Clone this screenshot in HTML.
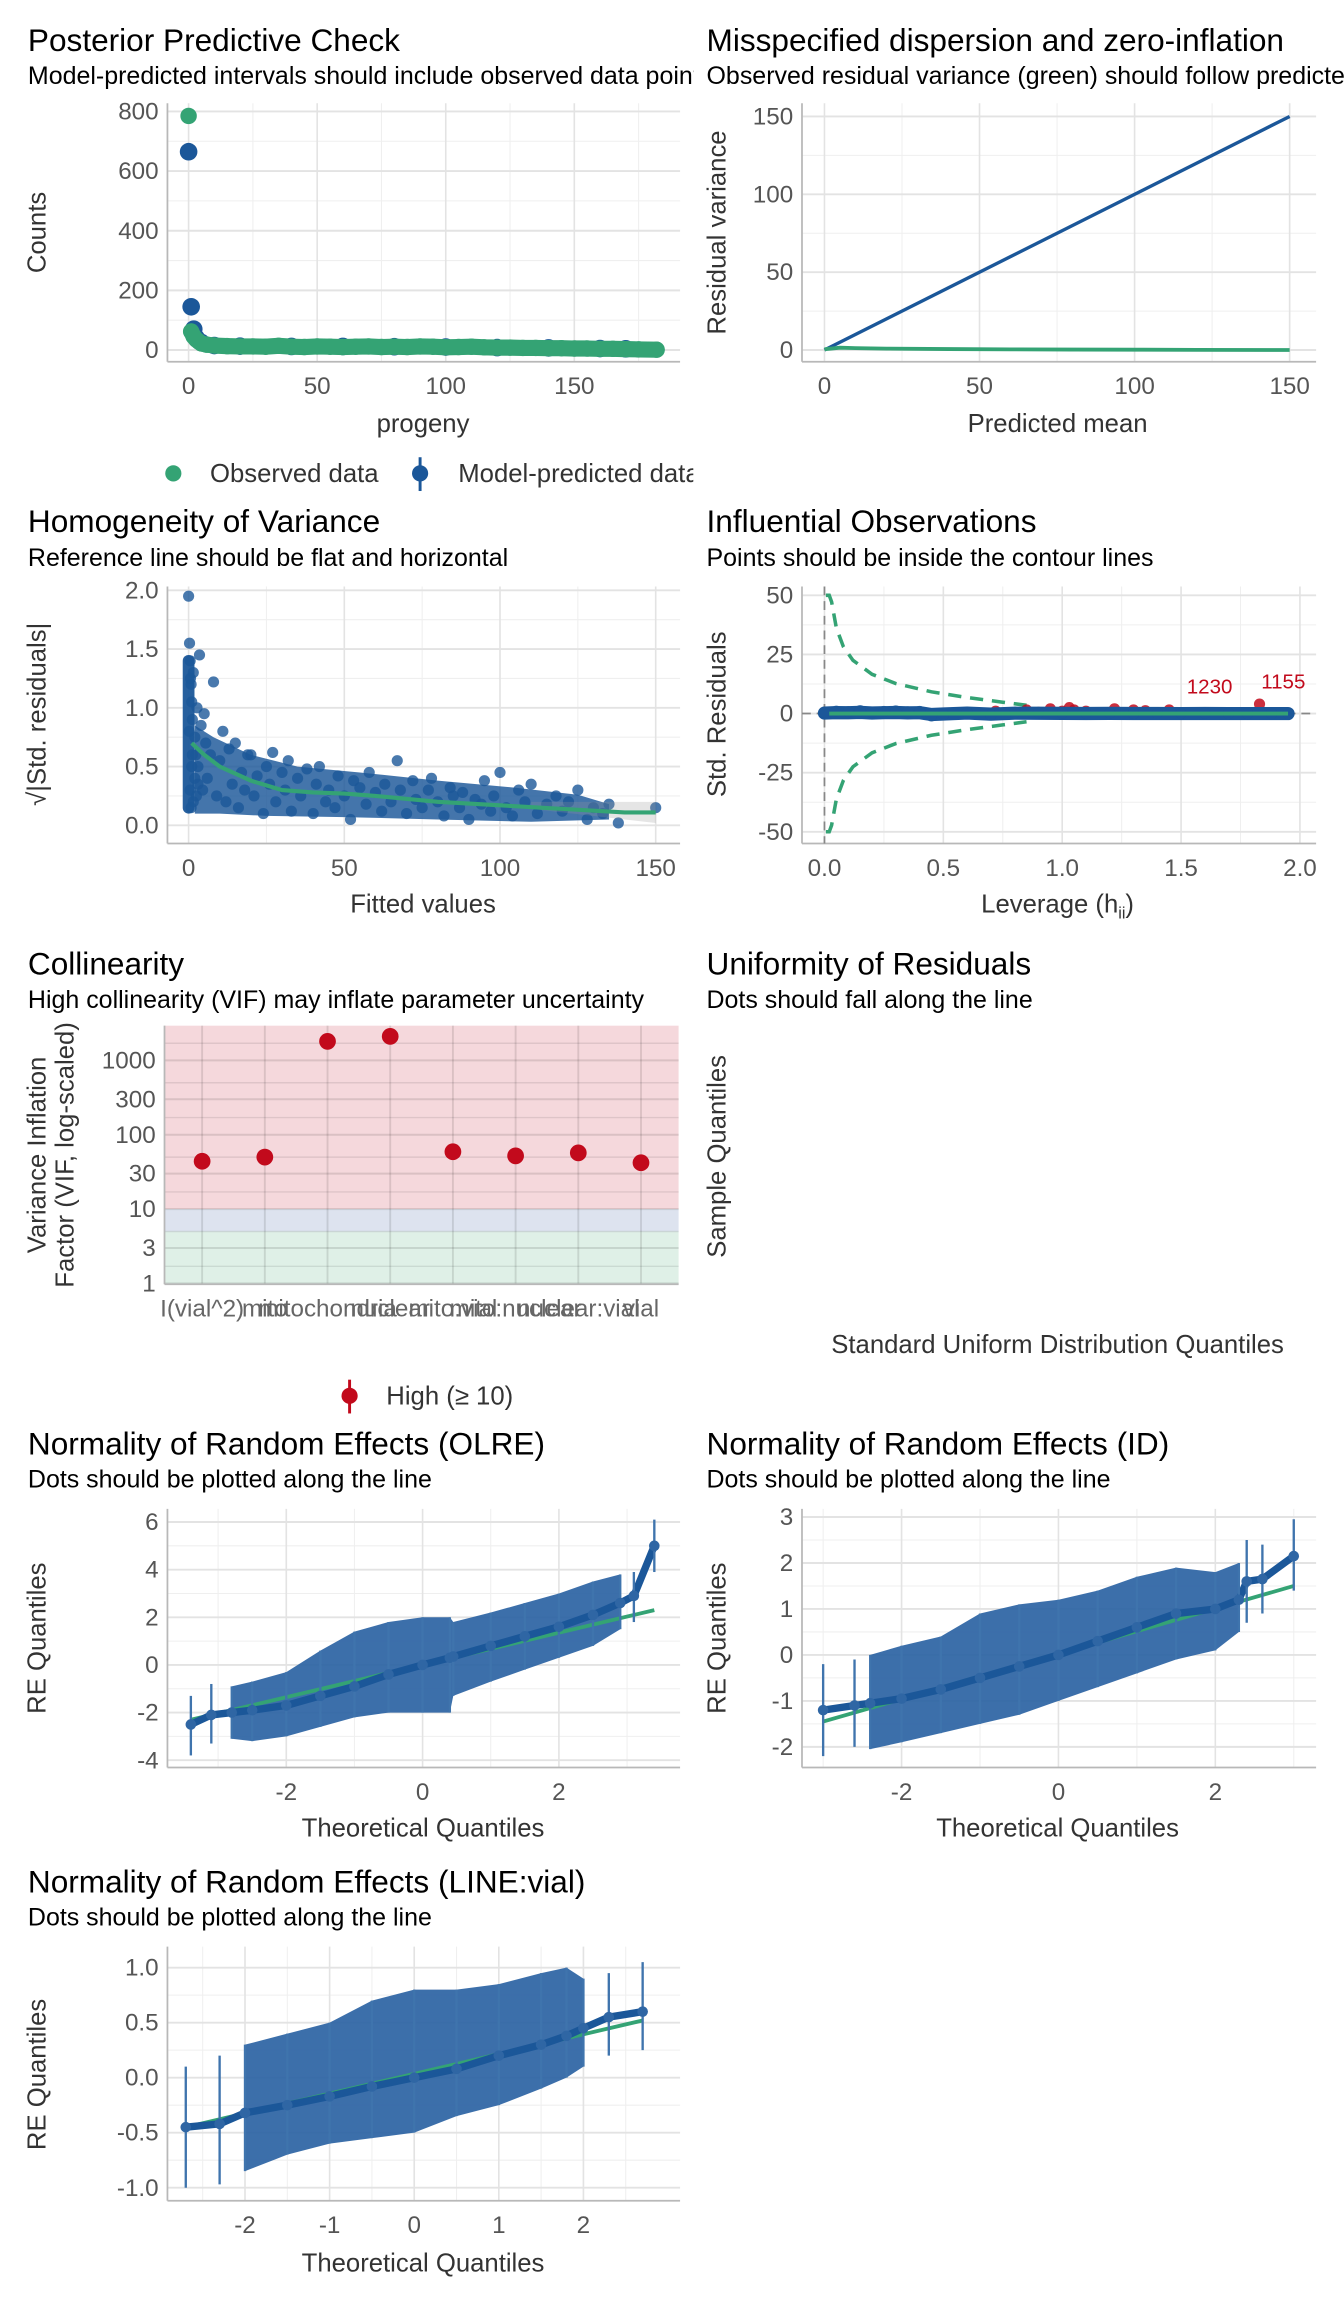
<!DOCTYPE html>
<html><head><meta charset="utf-8">
<style>
html,body{margin:0;padding:0;background:#fff;}
svg{display:block;font-family:"Liberation Sans",sans-serif;}
</style></head>
<body>
<svg id="chart" width="1344" height="2304" viewBox="0 0 915 1568" xmlns="http://www.w3.org/2000/svg">
<defs>
<clipPath id="clipL"><rect x="0" y="0" width="472" height="1568"/></clipPath>
<clipPath id="clipR"><rect x="472" y="0" width="443" height="1568"/></clipPath>
</defs>
<g fill="#000">
<g clip-path="url(#clipL)">
<text x="19" y="34.5" font-size="21.5">Posterior Predictive Check</text>
<text x="19" y="57" font-size="17">Model-predicted intervals should include observed data points</text>
</g>
<g clip-path="url(#clipR)">
<text x="481" y="34.5" font-size="21.5">Misspecified dispersion and zero-inflation</text>
<text x="481" y="57" font-size="17">Observed residual variance (green) should follow predicted residual variance (blue)</text>
</g>
<text x="19" y="362" font-size="21.5">Homogeneity of Variance</text>
<text x="19" y="385" font-size="17">Reference line should be flat and horizontal</text>
<text x="481" y="362" font-size="21.5">Influential Observations</text>
<text x="481" y="385" font-size="17">Points should be inside the contour lines</text>
<text x="19" y="663" font-size="21.5">Collinearity</text>
<text x="19" y="686" font-size="17">High collinearity (VIF) may inflate parameter uncertainty</text>
<text x="481" y="663" font-size="21.5">Uniformity of Residuals</text>
<text x="481" y="686" font-size="17">Dots should fall along the line</text>
<text x="19" y="990" font-size="21.5">Normality of Random Effects (OLRE)</text>
<text x="19" y="1012.5" font-size="17">Dots should be plotted along the line</text>
<text x="481" y="990" font-size="21.5">Normality of Random Effects (ID)</text>
<text x="481" y="1012.5" font-size="17">Dots should be plotted along the line</text>
<text x="19" y="1288" font-size="21.5">Normality of Random Effects (LINE:vial)</text>
<text x="19" y="1310.5" font-size="17">Dots should be plotted along the line</text>
</g>
<g fill="#333" font-size="17.5" text-anchor="middle">
<text x="288" y="294">progeny</text>
<text transform="translate(31,158) rotate(-90)">Counts</text>
<text x="720" y="294">Predicted mean</text>
<text transform="translate(494,158) rotate(-90)">Residual variance</text>
<text x="288" y="621">Fitted values</text>
<text transform="translate(31,486) rotate(-90)">√|Std. residuals|</text>
<text x="720" y="621">Leverage (h<tspan font-size="11" dy="4">ii</tspan><tspan dy="-4">)</tspan></text>
<text transform="translate(494,486) rotate(-90)">Std. Residuals</text>
<text transform="translate(31,786) rotate(-90)">Variance Inflation</text>
<text transform="translate(50,786) rotate(-90)">Factor (VIF, log-scaled)</text>
<text x="720" y="921">Standard Uniform Distribution Quantiles</text>
<text transform="translate(494,787) rotate(-90)">Sample Quantiles</text>
<text x="288" y="1250">Theoretical Quantiles</text>
<text transform="translate(31,1115) rotate(-90)">RE Quantiles</text>
<text x="720" y="1250">Theoretical Quantiles</text>
<text transform="translate(494,1115) rotate(-90)">RE Quantiles</text>
<text x="288" y="1546">Theoretical Quantiles</text>
<text transform="translate(31,1412) rotate(-90)">RE Quantiles</text>
</g>
<g clip-path="url(#clipL)">
<circle cx="118" cy="322" r="5.5" fill="#34a374"/>
<text x="143" y="328" font-size="17.5" fill="#333">Observed data</text>
<line x1="286" y1="311" x2="286" y2="334" stroke="#1b5799" stroke-width="2"/>
<circle cx="286" cy="322" r="5.5" fill="#1b5799"/>
<text x="312" y="328" font-size="17.5" fill="#333">Model-predicted data</text>
</g>
<g>
<line x1="238" y1="939" x2="238" y2="962" stroke="#c20a1c" stroke-width="2"/>
<circle cx="238" cy="950" r="5.5" fill="#c20a1c"/>
<text x="263" y="956" font-size="17.5" fill="#333">High (≥ 10)</text>
</g>
</svg>
<script>
// ---------- DATA ----------
const ppcObsProgeny = [0,1,2,3,4,5,7,10,15,20,25,30,35,40,45,50,55,60,65,70,75,80,85,90,95,100,105,110,115,120,125,130,135,140,145,150,155,160,165,170,175,182];
const ppcObsCounts  = [785,62,45,35,28,22,18,15,13,12,12,11,14,11,10,12,11,10,11,12,10,11,10,12,11,9,10,11,9,8,8,7,7,6,6,5,5,4,4,3,2,1];
const ppcPredProgeny = [0,1,2,3,5,10,20,40,60,80,100,120,140,160,170];
const ppcPredCounts  = [665,145,70,40,25,15,13,12,12,11,10,8,7,5,4];
const ppcPredErr     = [12,10,8,6,5,8,10,10,10,10,10,10,10,10,10];

const dispPredMean = [0,150];
const dispPredVar  = [0,150];
const dispObsMean  = [0,5,10,20,40,60,80,100,120,150];
const dispObsVar   = [0.5,1.5,1.2,0.9,0.6,0.4,0.3,0.2,0.1,0.0];

const homFitted = [0,0.3,0.5,0.8,1,1.2,1.5,2,2.3,2.7, 3,3.5,4,4.5,5,5.5,6,7,8,9, 10,11,12,13,14,15,16,17,18,19, 20,21,22,24,25,26,27,28,30,31, 32,33,35,36,38,40,41,42,44,45, 47,48,50,52,53,55,57,58,60,62, 63,65,67,68,70,72,73,75,77,78, 80,82,84,85,87,88,90,92,94,95, 97,98,100,102,104,106,108,110,112,115, 118,120,122,125,128,130,133,135,138,150, 0.5,1,1.5,2,0.2,0.8,1.2,2.5,3,0.6];
const homResid  = [1.95,1.55,1.4,1.2,1.05,0.9,1.3,0.75,0.6,1.0, 0.5,1.45,0.85,0.3,0.95,0.7,0.4,0.6,1.22,0.25, 0.55,0.8,0.2,0.65,0.35,0.7,0.15,0.45,0.3,0.6, 0.6,0.25,0.42,0.1,0.5,0.35,0.62,0.2,0.45,0.3, 0.55,0.12,0.4,0.25,0.48,0.1,0.35,0.5,0.2,0.3, 0.15,0.42,0.25,0.05,0.38,0.32,0.18,0.45,0.28,0.12, 0.35,0.2,0.55,0.3,0.1,0.38,0.22,0.15,0.3,0.4, 0.2,0.08,0.32,0.25,0.15,0.28,0.05,0.22,0.18,0.38, 0.12,0.25,0.45,0.15,0.08,0.3,0.2,0.35,0.1,0.18, 0.25,0.12,0.2,0.3,0.05,0.15,0.1,0.18,0.02,0.15, 0.3,0.5,0.2,0.4,0.8,0.15,0.6,0.25,0.35,1.25];
const homSmoothX = [1,5,10,20,30,40,50,60,80,100,120,140,150];
const homSmoothY = [0.7,0.6,0.5,0.38,0.3,0.28,0.27,0.25,0.2,0.17,0.14,0.11,0.11];

const infLeverage = [0.0,0.05,0.1,0.15,0.2,0.25,0.3,0.35,0.4,0.45,0.5,0.6,0.7,0.8,0.9,1.0,1.1,1.2,1.3,1.4,1.5,1.6,1.7,1.78,1.88,1.95];
const infStdRes   = [0.5,1,0.8,1.2,0.6,0.9,1.1,0.7,0.9,-1,-0.5,0.5,-0.6,0.4,0.3,0.2,0.1,0.2,0.1,0.1,0,0.1,0,0,0,0];
const infRedLev = [0.72,0.85,0.9,0.95,1.0,1.03,1.05,1.1,1.22,1.3,1.35,1.45,1.83];
const infRedRes = [1,1.5,0.5,2,1,2.5,1.5,1,2,1.5,1.2,1.5,4];
const infContourK = 69;

const vifTerms  = ["I(vial^2)","mito","mitochondria","nuclear","mito:vial","mito:nuclear","nuclear:vial","vial"];
const vifValues = [44,50,1800,2100,59,52,57,42];

const olreQ  = [-3.4,-3.1,-2.8,-2.5,-2.0,-1.5,-1.0,-0.5,0.0,0.4,0.45,1.0,1.5,2.0,2.5,2.9,3.1,3.4];
const olreY  = [-2.5,-2.1,-2.0,-1.9,-1.7,-1.3,-0.9,-0.4,0.0,0.3,0.35,0.8,1.2,1.6,2.1,2.6,2.9,5.0];
const olreLo = [-3.8,-3.3,-3.1,-3.2,-3.0,-2.6,-2.2,-2.0,-2.0,-2.0,-1.3,-0.7,-0.2,0.3,0.8,1.5,1.8,3.9];
const olreHi = [-1.3,-0.8,-0.9,-0.7,-0.3,0.6,1.4,1.8,2.0,2.0,1.8,2.2,2.6,3.0,3.5,3.8,3.9,6.1];
const olreRef = [-2.3,2.3];

const idQ  = [-3.0,-2.6,-2.4,-2.0,-1.5,-1.0,-0.5,0.0,0.5,1.0,1.5,2.0,2.3,2.4,2.6,3.0];
const idY  = [-1.2,-1.1,-1.05,-0.95,-0.75,-0.5,-0.25,0.0,0.3,0.6,0.9,1.0,1.2,1.6,1.65,2.15];
const idLo = [-2.2,-2.0,-2.05,-1.9,-1.7,-1.5,-1.3,-1.0,-0.7,-0.4,-0.1,0.1,0.5,0.7,0.9,1.4];
const idHi = [-0.2,-0.1,0.0,0.2,0.4,0.9,1.1,1.2,1.4,1.7,1.9,1.8,2.0,2.5,2.4,2.95];
const idRef = [-1.45,1.5];

const lvQ  = [-2.7,-2.3,-2.0,-1.5,-1.0,-0.5,0.0,0.5,1.0,1.5,1.8,2.0,2.3,2.7];
const lvY  = [-0.45,-0.42,-0.32,-0.25,-0.17,-0.08,0.0,0.08,0.2,0.3,0.38,0.45,0.55,0.6];
const lvLo = [-1.0,-0.97,-0.85,-0.7,-0.6,-0.55,-0.5,-0.35,-0.25,-0.1,0.0,0.1,0.2,0.25];
const lvHi = [0.1,0.2,0.3,0.4,0.5,0.7,0.8,0.8,0.85,0.95,1.0,0.9,0.95,1.05];
const lvRef = [-0.45,0.52];

const ticksPPCx = ["0","50","100","150"]; const ticksPPCy = ["0","200","400","600","800"];
const ticksDispX = ["0","50","100","150"]; const ticksDispY = ["0","50","100","150"];
const ticksHomX = ["0","50","100","150"]; const ticksHomY = ["0.0","0.5","1.0","1.5","2.0"];
const ticksInfX = ["0.0","0.5","1.0","1.5","2.0"]; const ticksInfY = ["-50","-25","0","25","50"];
const ticksVifY = ["1","3","10","30","100","300","1000"];
const ticksOlreX = ["-2","0","2"]; const ticksOlreY = ["-4","-2","0","2","4","6"];
const ticksIdX = ["-2","0","2"]; const ticksIdY = ["-2","-1","0","1","2","3"];
const ticksLvX = ["-2","-1","0","1","2"]; const ticksLvY = ["-1.0","-0.5","0.0","0.5","1.0"];

// ---------- HELPERS ----------
const NS = "http://www.w3.org/2000/svg";
const svg = document.getElementById('chart');
const BLUE = "#1b5799", GREEN = "#34a374", RED = "#c20a1c";
const TICK = 16.5;
function mk(tag, attrs, parent) {
  const e = document.createElementNS(NS, tag);
  for (const k in attrs) e.setAttribute(k, attrs[k]);
  (parent || svg).appendChild(e);
  return e;
}
function lin(d0, d1, r0, r1) { return v => r0 + (v - d0) * (r1 - r0) / (d1 - d0); }
function group(name, parent) {
  const g = mk('g', {}, parent);
  
  
  return g;
}
function frame(name, box, sx, sy, xMaj, xMin, yMaj, yMin, xLab, yLab) {
  const g = group(name + '-axes');
  for (const v of xMin) { const l = mk('line', {x1: sx(v), x2: sx(v), y1: box.y0, y2: box.y1, stroke: '#efefef', 'stroke-width': 0.7}, g);
    
     }
  for (const v of yMin) { const l = mk('line', {x1: box.x0, x2: box.x1, y1: sy(v), y2: sy(v), stroke: '#efefef', 'stroke-width': 0.7}, g);
    
     }
  for (const v of xMaj) { const l = mk('line', {x1: sx(v), x2: sx(v), y1: box.y0, y2: box.y1, stroke: '#e3e3e3', 'stroke-width': 1.1}, g);
    
     }
  for (const v of yMaj) { const l = mk('line', {x1: box.x0, x2: box.x1, y1: sy(v), y2: sy(v), stroke: '#e3e3e3', 'stroke-width': 1.3}, g);
    
     }
  const ax = mk('line', {x1: box.x0, x2: box.x1, y1: box.y1, y2: box.y1, stroke: '#b8b8b8', 'stroke-width': 1.2}, g);
  
  
  const ay = mk('line', {x1: box.x0, x2: box.x0, y1: box.y0, y2: box.y1, stroke: '#b8b8b8', 'stroke-width': 1.2}, g);
  
  
  xMaj.forEach((v, i) => { if (!xLab) return;
    const t = mk('text', {x: sx(v), y: box.y1 + 22, 'text-anchor': 'middle', 'font-size': TICK, fill: '#555'}, g);
    
    
    t.textContent = xLab[i]; });
  yMaj.forEach((v, i) => { if (!yLab) return;
    const t = mk('text', {x: box.x0 - 6, y: sy(v) + 5.5, 'text-anchor': 'end', 'font-size': TICK, fill: '#555'}, g);
    
    
    t.textContent = yLab[i]; });
  return g;
}

// ---------- PANEL 1: PPC ----------
{
  const box = {x0: 114, x1: 463, y0: 70, y1: 246};
  const sx = lin(0, 150, 128.4, 391), sy = lin(0, 800, 238, 75.6);
  frame('ppc', box, sx, sy, [0,50,100,150], [25,75,125,175], [0,200,400,600,800], [100,300,500,700], ticksPPCx, ticksPPCy);
  const g = group('ppc-marks');
  ppcPredProgeny.forEach((p, i) => {
    const l = mk('line', {x1: sx(p), x2: sx(p), y1: sy(ppcPredCounts[i] + ppcPredErr[i]), y2: sy(ppcPredCounts[i] - ppcPredErr[i]), stroke: BLUE, 'stroke-width': 2}, g);
    
    
    const c = mk('circle', {cx: sx(p), cy: sy(ppcPredCounts[i]), r: 6, fill: BLUE}, g);
    
    
  });
  ppcObsProgeny.forEach((p, i) => {
    const c = mk('circle', {cx: sx(p), cy: sy(ppcObsCounts[i]), r: 5.6, fill: GREEN}, g);
    
    
  });
  const band = mk('polyline', {points: ppcObsProgeny.slice(1).map((p, i) => sx(p) + ',' + sy(ppcObsCounts[i + 1])).join(' '), fill: 'none', stroke: GREEN, 'stroke-width': 11, 'stroke-linejoin': 'round', 'stroke-linecap': 'round'}, g);
  
  
}

// ---------- PANEL 2: dispersion ----------
{
  const box = {x0: 546, x1: 896, y0: 70, y1: 246};
  const sx = lin(0, 150, 561.3, 878), sy = lin(0, 150, 238, 79);
  frame('dispersion', box, sx, sy, [0,50,100,150], [25,75,125], [0,50,100,150], [25,75,125], ticksDispX, ticksDispY);
  const g = group('dispersion-marks');
  const p = mk('polyline', {points: dispPredMean.map((m, i) => sx(m) + ',' + sy(dispPredVar[i])).join(' '), fill: 'none', stroke: BLUE, 'stroke-width': 2.3}, g);
  
  
  const o = mk('polyline', {points: dispObsMean.map((m, i) => sx(m) + ',' + sy(dispObsVar[i])).join(' '), fill: 'none', stroke: GREEN, 'stroke-width': 2.6}, g);
  
  
}

// ---------- PANEL 3: homogeneity ----------
{
  const box = {x0: 114, x1: 463, y0: 399, y1: 574};
  const sx = lin(0, 150, 128.4, 446.4), sy = lin(0, 2, 561.6, 401.6);
  frame('homogeneity', box, sx, sy, [0,50,100,150], [25,75,125], [0,0.5,1,1.5,2], [0.25,0.75,1.25,1.75], ticksHomX, ticksHomY);
  const g = group('homogeneity-marks');
  const dense = mk('rect', {x: sx(0) - 4, y: sy(1.45), width: 8, height: sy(0.1) - sy(1.45), rx: 4, fill: BLUE, opacity: 0.95}, g);
  
  
  const cloud = mk('polygon', {points: [[2,0.1],[2,0.85],[8,0.75],[20,0.6],[35,0.5],[55,0.45],[80,0.38],[105,0.32],[125,0.26],[135,0.18],[135,0.05],[110,0.03],[80,0.05],[50,0.07],[25,0.08],[10,0.1]].map(q => sx(q[0]) + ',' + sy(q[1])).join(' '), fill: BLUE, opacity: 0.82}, g);
  
  
  homFitted.forEach((f, i) => {
    const c = mk('circle', {cx: sx(f), cy: sy(homResid[i]), r: 3.8, fill: BLUE, opacity: 0.8}, g);
    
    
  });
  const ci = mk('polygon', {points: [[110,0.2],[150,0.2],[150,0.02],[110,0.14]].map(q => sx(q[0]) + ',' + sy(q[1])).join(' '), fill: '#999', opacity: 0.25}, g);
  
  
  const s = mk('polyline', {points: homSmoothX.map((x, i) => sx(x) + ',' + sy(homSmoothY[i])).join(' '), fill: 'none', stroke: GREEN, 'stroke-width': 2.8}, g);
  
  
}

// ---------- PANEL 4: influential ----------
{
  const box = {x0: 546, x1: 896, y0: 399, y1: 574};
  const sx = lin(0, 2, 561.3, 885), sy = lin(0, 50, 485.5, 405);
  frame('influential', box, sx, sy, [0,0.5,1,1.5,2], [0.25,0.75,1.25,1.75], [-50,-25,0,25,50], [-37.5,-12.5,12.5,37.5], ticksInfX, ticksInfY);
  const g = group('influential-marks');
  const vz = mk('line', {x1: sx(0), x2: sx(0), y1: box.y0, y2: box.y1, stroke: '#888', 'stroke-width': 1.2, 'stroke-dasharray': '6,4'}, g);
  
  
  const hz = mk('line', {x1: box.x0, x2: box.x1, y1: sy(0), y2: sy(0), stroke: '#888', 'stroke-width': 1.2, 'stroke-dasharray': '6,4'}, g);
  
  
  const hs = [0.006,0.008,0.01,0.015,0.02,0.03,0.05,0.08,0.12,0.2,0.3,0.45,0.6,0.75,0.85];
  [1, -1].forEach(sgn => {
    const c = mk('polyline', {points: hs.map(h => sx(h) + ',' + sy(sgn * Math.min(50, Math.sqrt(infContourK * (1 - h) / h)))).join(' '), fill: 'none', stroke: GREEN, 'stroke-width': 2.4, 'stroke-dasharray': '9,6'}, g);
    
    
  });
  infRedLev.forEach((l, i) => {
    const c = mk('circle', {cx: sx(l), cy: sy(infRedRes[i]), r: 3.8, fill: RED, opacity: 0.85}, g);
    
    
  });
  const line = mk('polyline', {points: infLeverage.map((l, i) => sx(l) + ',' + sy(infStdRes[i] * 0.4)).join(' '), fill: 'none', stroke: BLUE, 'stroke-width': 9, 'stroke-linecap': 'round', 'stroke-linejoin': 'round'}, g);
  
  
  infLeverage.forEach((l, i) => {
    const c = mk('circle', {cx: sx(l), cy: sy(infStdRes[i]), r: 3.8, fill: BLUE, opacity: 0.85}, g);
    
    
  });
  const fit = mk('line', {x1: sx(0.02), x2: sx(1.95), y1: sy(0), y2: sy(0), stroke: GREEN, 'stroke-width': 2.6}, g);
  
  
  const l1 = mk('text', {x: sx(1.62), y: sy(8.5), 'text-anchor': 'middle', 'font-size': 14, fill: RED}, g);
  
  
  l1.textContent = '1230';
  const l2 = mk('text', {x: sx(1.93), y: sy(10.5), 'text-anchor': 'middle', 'font-size': 14, fill: RED}, g);
  
  
  l2.textContent = '1155';
}

// ---------- PANEL 5: collinearity ----------
{
  const box = {x0: 112, x1: 462, y0: 698, y1: 874};
  const ly = lin(0, 3, 873.5, 721.6);
  const sy = v => ly(Math.log10(v));
  const step = (box.x1 - box.x0) / (vifTerms.length + 0.2);
  const sx = i => box.x0 + (0.6 + i) * step;
  const g = group('collinearity-bands');
  const bRed = mk('rect', {x: box.x0, y: box.y0, width: box.x1 - box.x0, height: sy(10) - box.y0, fill: '#f5d8dc'}, g);
  
  
  const bBlue = mk('rect', {x: box.x0, y: sy(10), width: box.x1 - box.x0, height: sy(5) - sy(10), fill: '#dde3ef'}, g);
  
  
  const bGreen = mk('rect', {x: box.x0, y: sy(5), width: box.x1 - box.x0, height: box.y1 - sy(5), fill: '#dff0e7'}, g);
  
  
  const gg = group('collinearity-grid');
  const yMaj = [1,3,10,30,100,300,1000], yMin = [1.7,5,17,50,170,500,1700];
  yMin.forEach(v => { const l = mk('line', {x1: box.x0, x2: box.x1, y1: sy(v), y2: sy(v), stroke: 'rgba(0,0,0,0.09)', 'stroke-width': 1}, gg);
    
     });
  yMaj.forEach((v, i) => { const l = mk('line', {x1: box.x0, x2: box.x1, y1: sy(v), y2: sy(v), stroke: 'rgba(0,0,0,0.11)', 'stroke-width': 1.4}, gg);
    
    
    const t = mk('text', {x: box.x0 - 6, y: sy(v) + 5.5, 'text-anchor': 'end', 'font-size': TICK, fill: '#555'}, gg);
    
    
    t.textContent = ticksVifY[i]; });
  vifTerms.forEach((term, i) => {
    const l = mk('line', {x1: sx(i), x2: sx(i), y1: box.y0, y2: box.y1, stroke: 'rgba(0,0,0,0.11)', 'stroke-width': 1.3}, gg);
    
    
    const t = mk('text', {x: sx(i), y: box.y1 + 22, 'text-anchor': 'middle', 'font-size': TICK, fill: '#666'}, gg);
    
    
    t.textContent = term;
  });
  const ax = mk('line', {x1: box.x0, x2: box.x1, y1: box.y1, y2: box.y1, stroke: '#b8b8b8', 'stroke-width': 1.2}, gg);
  
  
  const ay = mk('line', {x1: box.x0, x2: box.x0, y1: box.y0, y2: box.y1, stroke: '#b8b8b8', 'stroke-width': 1.2}, gg);
  
  
  const gm = group('collinearity-marks');
  vifValues.forEach((v, i) => {
    const c = mk('circle', {cx: sx(i), cy: sy(v), r: 5.7, fill: RED}, gm);
    
    
  });
}

// ---------- QQ PANELS ----------
function qqPanel(name, box, sx, sy, xMaj, xMin, yMaj, yMin, xLab, yLab, Q, Y, LO, HI, REF, s, e) {
  frame(name, box, sx, sy, xMaj, xMin, yMaj, yMin, xLab, yLab);
  const g = group(name + '-marks');
  const up = [], dn = [];
  for (let i = s; i <= e; i++) { up.push(sx(Q[i]) + ',' + sy(HI[i])); dn.push(sx(Q[i]) + ',' + sy(LO[i])); }
  const band = mk('polygon', {points: up.concat(dn.reverse()).join(' '), fill: '#2b63a3', opacity: 0.92}, g);
  
  
  const ref = mk('line', {x1: sx(Q[0]), x2: sx(Q[Q.length - 1]), y1: sy(REF[0]), y2: sy(REF[1]), stroke: GREEN, 'stroke-width': 2.6}, g);
  
  
  const dl = mk('polyline', {points: Q.map((q, i) => sx(q) + ',' + sy(Y[i])).join(' '), fill: 'none', stroke: BLUE, 'stroke-width': 5, 'stroke-linejoin': 'round'}, g);
  
  
  Q.forEach((q, i) => {
    const l = mk('line', {x1: sx(q), x2: sx(q), y1: sy(LO[i]), y2: sy(HI[i]), stroke: '#3f74ad', 'stroke-width': 1.6}, g);
    
    
    const c = mk('circle', {cx: sx(q), cy: sy(Y[i]), r: 3.6, fill: '#2f66a4'}, g);
    
    
  });
}
qqPanel('olre', {x0: 114, x1: 463, y0: 1027, y1: 1203}, lin(0, 2, 287.7, 380.5), lin(0, 6, 1133.2, 1035.9),
  [-2,0,2], [-3,-1,1,3], [-4,-2,0,2,4,6], [-3,-1,1,3,5], ticksOlreX, ticksOlreY, olreQ, olreY, olreLo, olreHi, olreRef, 2, 15);
qqPanel('id', {x0: 546, x1: 896, y0: 1027, y1: 1203}, lin(0, 2, 720.6, 827.4), lin(0, 3, 1126.4, 1032.5),
  [-2,0,2], [-3,-1,1,3], [-2,-1,0,1,2,3], [-1.5,-0.5,0.5,1.5,2.5], ticksIdX, ticksIdY, idQ, idY, idLo, idHi, idRef, 2, 12);
qqPanel('linevial', {x0: 114, x1: 463, y0: 1325, y1: 1498}, lin(0, 2, 282, 397.2), lin(0, 1, 1414.2, 1339.3),
  [-2,-1,0,1,2], [-2.5,-1.5,-0.5,0.5,1.5,2.5], [-1,-0.5,0,0.5,1], [-0.75,-0.25,0.25,0.75], ticksLvX, ticksLvY, lvQ, lvY, lvLo, lvHi, lvRef, 2, 11);
</script>
</body></html>
